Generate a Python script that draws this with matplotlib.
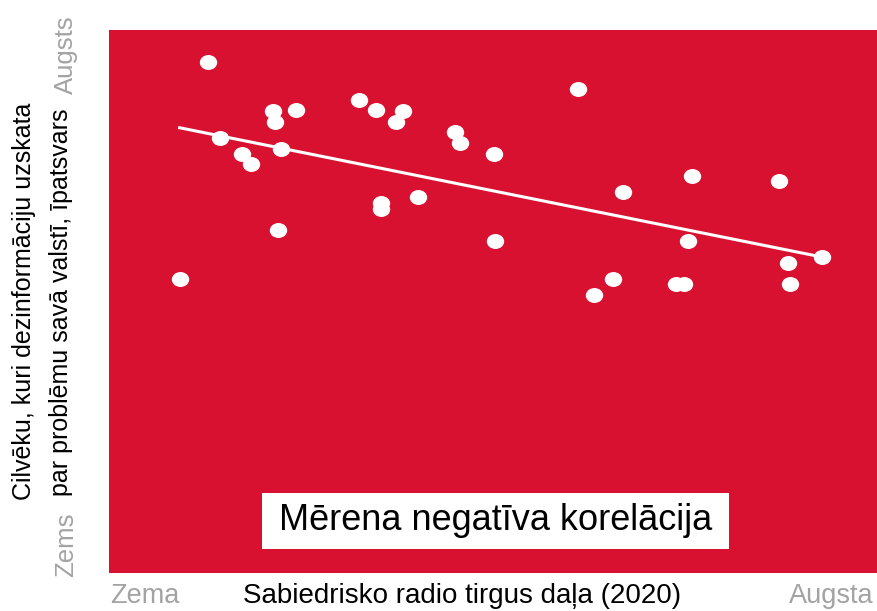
import numpy as np
import matplotlib
matplotlib.use("Agg")
from matplotlib import pyplot as plt
from matplotlib.path import Path
from matplotlib.patches import Rectangle
from matplotlib.transforms import Affine2D

plt.rcParams['font.family'] = ['Liberation Sans', 'DejaVu Sans']

# values (0..100 on both axes, relative scale)
radio_share = [12.9, 14.5, 17.3, 18.5, 21.4, 21.6, 22.4, 24.3, 22.0, 9.2,
               32.6, 34.8, 37.4, 38.3, 35.4, 35.4, 40.2, 45.1, 45.7, 50.1,
               50.3, 61.1, 66.9, 63.2, 65.6, 73.8, 74.9, 75.4, 75.9, 87.2,
               88.4, 88.7, 92.8]
disinfo_problem = [94.1, 80.1, 77.2, 75.3, 85.1, 83.1, 78.1, 85.3, 63.2, 54.1,
                   87.1, 85.3, 83.1, 85.1, 68.1, 67.0, 69.2, 81.2, 79.2, 77.2,
                   61.1, 89.1, 70.2, 51.2, 54.1, 53.2, 53.2, 61.1, 73.1, 72.2,
                   57.1, 53.2, 58.2]
trend_x = [9.2, 92.8]
trend_y = [82.0, 58.2]

RED = '#D91131'
GREY = '#A3A3A3'

fig = plt.figure(figsize=(8.77, 6.11), dpi=100)
ax = fig.add_axes([109 / 877, 38 / 611, 768 / 877, 543 / 611])
ax.set_facecolor(RED)
for s in ax.spines.values():
    s.set_visible(False)
ax.set_xlim(0, 100)
ax.set_ylim(0, 100)
ax.set_xticks([])
ax.set_yticks([])

# slightly wide ellipse marker
ellipse = Path.unit_circle().transformed(Affine2D().scale(1.18, 1.0))

ax.plot(trend_x, trend_y, color='white', lw=2.2, zorder=2)
ax.plot(radio_share, disinfo_problem, ls='none', marker=ellipse, ms=11.5,
        color='white', mec='white', zorder=3)

# label box
ax.add_patch(Rectangle((0.199, 0.044), 0.608, 0.103, transform=ax.transAxes,
                       fc='white', ec='none', zorder=4))
ax.text(0.503, 0.096, 'Mērena negatīva korelācija', transform=ax.transAxes,
        ha='center', va='center', fontsize=26, color='black', zorder=5)

# axis texts
fig.text(243 / 877, 1 - 596 / 611, 'Sabiedrisko radio tirgus daļa (2020)',
         ha='left', va='center', fontsize=20, color='black')
fig.text(110 / 877, 1 - 596 / 611, 'Zema', ha='left', va='center',
         fontsize=19.5, color=GREY)
fig.text(874 / 877, 1 - 596 / 611, 'Augsta', ha='right', va='center',
         fontsize=19.5, color=GREY)

fig.text(24 / 877, 1 - 301 / 611, 'Cilvēku, kuri dezinformāciju uzskata',
         rotation=90, ha='center', va='center', fontsize=18, color='black')
fig.text(61 / 877, 1 - 302 / 611, 'par problēmu savā valstī, īpatsvars',
         rotation=90, ha='center', va='center', fontsize=18, color='black')
fig.text(66 / 877, 1 - 577 / 611, 'Zems', rotation=90, ha='center',
         va='bottom', fontsize=18.5, color=GREY)
fig.text(66 / 877, 1 - 15 / 611, 'Augsts', rotation=90, ha='center',
         va='top', fontsize=18.5, color=GREY)

fig.savefig('out.png', dpi=100, facecolor='white')
